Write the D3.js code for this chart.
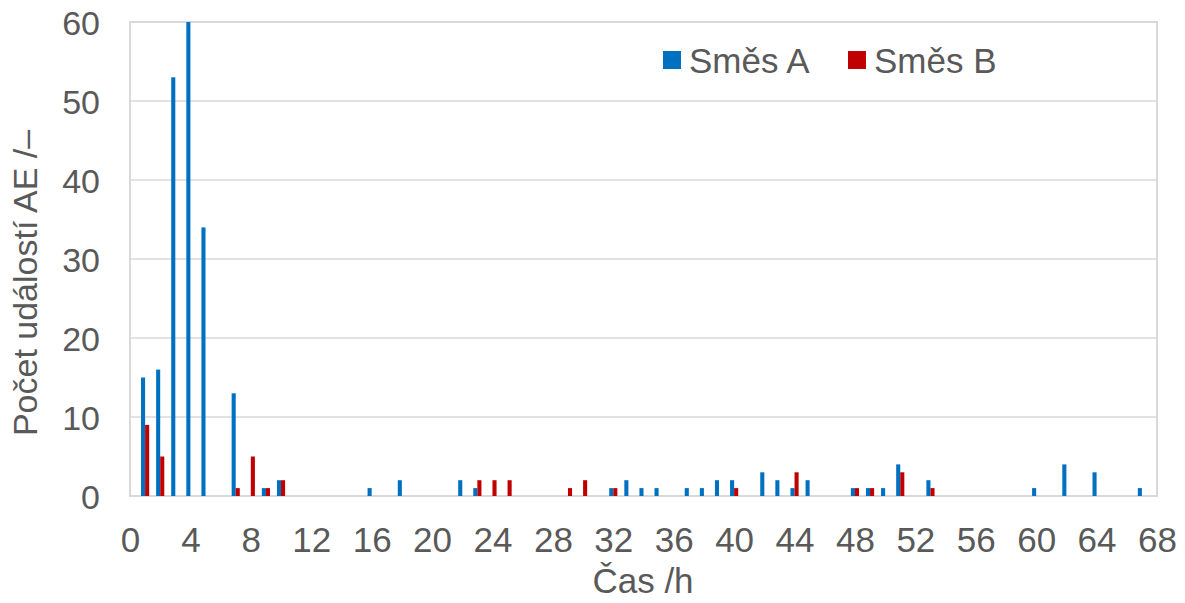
<!doctype html>
<meta charset="utf-8">
<title>Počet událostí AE</title>
<style>
body { margin: 0; background: #fff; }
text { font-family: "Liberation Sans", Arial, sans-serif; fill: #595959; }
.grid line { stroke: #d9d9d9; stroke-width: 1.5; }
.frame { fill: none; stroke: #d9d9d9; stroke-width: 2; }
</style>
<script src="https://d3js.org/d3.v7.min.js"></script>
<body>
<script>
// hodiny a počty událostí
var hoursA = [1, 2, 3, 4, 5, 7, 9, 10, 16, 18, 22, 23, 32, 33, 34, 35, 37, 38, 39, 40, 42, 43, 44, 45, 48, 49, 50, 51, 53, 60, 62, 64, 67];
var countsA = [15, 16, 53, 60, 34, 13, 1, 2, 1, 2, 2, 1, 1, 2, 1, 1, 1, 1, 2, 2, 3, 2, 1, 2, 1, 1, 1, 4, 2, 1, 4, 3, 1];
var hoursB = [1, 2, 7, 8, 9, 10, 23, 24, 25, 29, 30, 32, 40, 44, 48, 49, 51, 53];
var countsB = [9, 5, 1, 5, 1, 2, 2, 2, 2, 1, 2, 1, 1, 3, 1, 1, 3, 1];
var xTicks = d3.range(0, 69, 4);
var yTicks = [0, 10, 20, 30, 40, 50, 60];
var seriesNames = ["Směs A", "Směs B"];
var colors = ["#0070c0", "#c00000"];

var width = 1185, height = 603;
var svg = d3.select("body").append("svg")
    .attr("width", width)
    .attr("height", height);

var x = d3.scaleLinear().domain([0, 68]).range([130, 1157]);
var y = d3.scaleLinear().domain([0, 60]).range([496, 22]);
var bw = x(0.27) - x(0);

// mřížka
svg.append("g").attr("class", "grid")
  .selectAll("line")
  .data(yTicks.slice(1))
  .enter().append("line")
    .attr("x1", x(0)).attr("x2", x(68))
    .attr("y1", function(d) { return y(d); })
    .attr("y2", function(d) { return y(d); });

svg.append("rect").attr("class", "frame")
  .attr("x", x(0)).attr("y", y(60))
  .attr("width", x(68) - x(0)).attr("height", y(0) - y(60));

var dataA = hoursA.map(function(h, i) { return {h: h, v: countsA[i]}; });
var dataB = hoursB.map(function(h, i) { return {h: h, v: countsB[i]}; });

svg.append("g").selectAll("rect")
  .data(dataA)
  .enter().append("rect")
    .attr("x", function(d) { return x(d.h) - bw; })
    .attr("y", function(d) { return y(d.v); })
    .attr("width", bw)
    .attr("height", function(d) { return y(0) - y(d.v); })
    .attr("fill", colors[0]);

svg.append("g").selectAll("rect")
  .data(dataB)
  .enter().append("rect")
    .attr("x", function(d) { return x(d.h); })
    .attr("y", function(d) { return y(d.v); })
    .attr("width", bw)
    .attr("height", function(d) { return y(0) - y(d.v); })
    .attr("fill", colors[1]);

// osy
var yAxis = d3.axisLeft(y).tickValues(yTicks).tickSize(0).tickPadding(30);
svg.append("g")
  .attr("transform", "translate(" + x(0) + ",0)")
  .call(yAxis)
  .call(function(g) { g.select(".domain").remove(); })
  .selectAll("text")
    .style("font-size", "34px")
    .attr("dy", "0.36em")
    .attr("fill", "#595959");

var xAxis = d3.axisBottom(x).tickValues(xTicks).tickSize(0).tickPadding(31);
svg.append("g")
  .attr("transform", "translate(0," + y(0) + ")")
  .call(xAxis)
  .call(function(g) { g.select(".domain").remove(); })
  .selectAll("text")
    .style("font-size", "35px")
    .attr("fill", "#595959");

svg.append("text")
  .attr("x", 643).attr("y", 593)
  .attr("text-anchor", "middle")
  .style("font-size", "35px")
  .text("Čas /h");

svg.append("text")
  .attr("transform", "translate(37,283) rotate(-90)")
  .attr("text-anchor", "middle")
  .style("font-size", "34px")
  .text("Počet událostí AE /–");

// legenda
var legend = svg.append("g");
var legX = [663, 848];
seriesNames.forEach(function(name, i) {
  legend.append("rect")
    .attr("x", legX[i]).attr("y", 51)
    .attr("width", 18).attr("height", 18)
    .attr("fill", colors[i]);
  legend.append("text")
    .attr("x", legX[i] + 26).attr("y", 73)
    .style("font-size", "35px")
    .text(name);
});
</script>
